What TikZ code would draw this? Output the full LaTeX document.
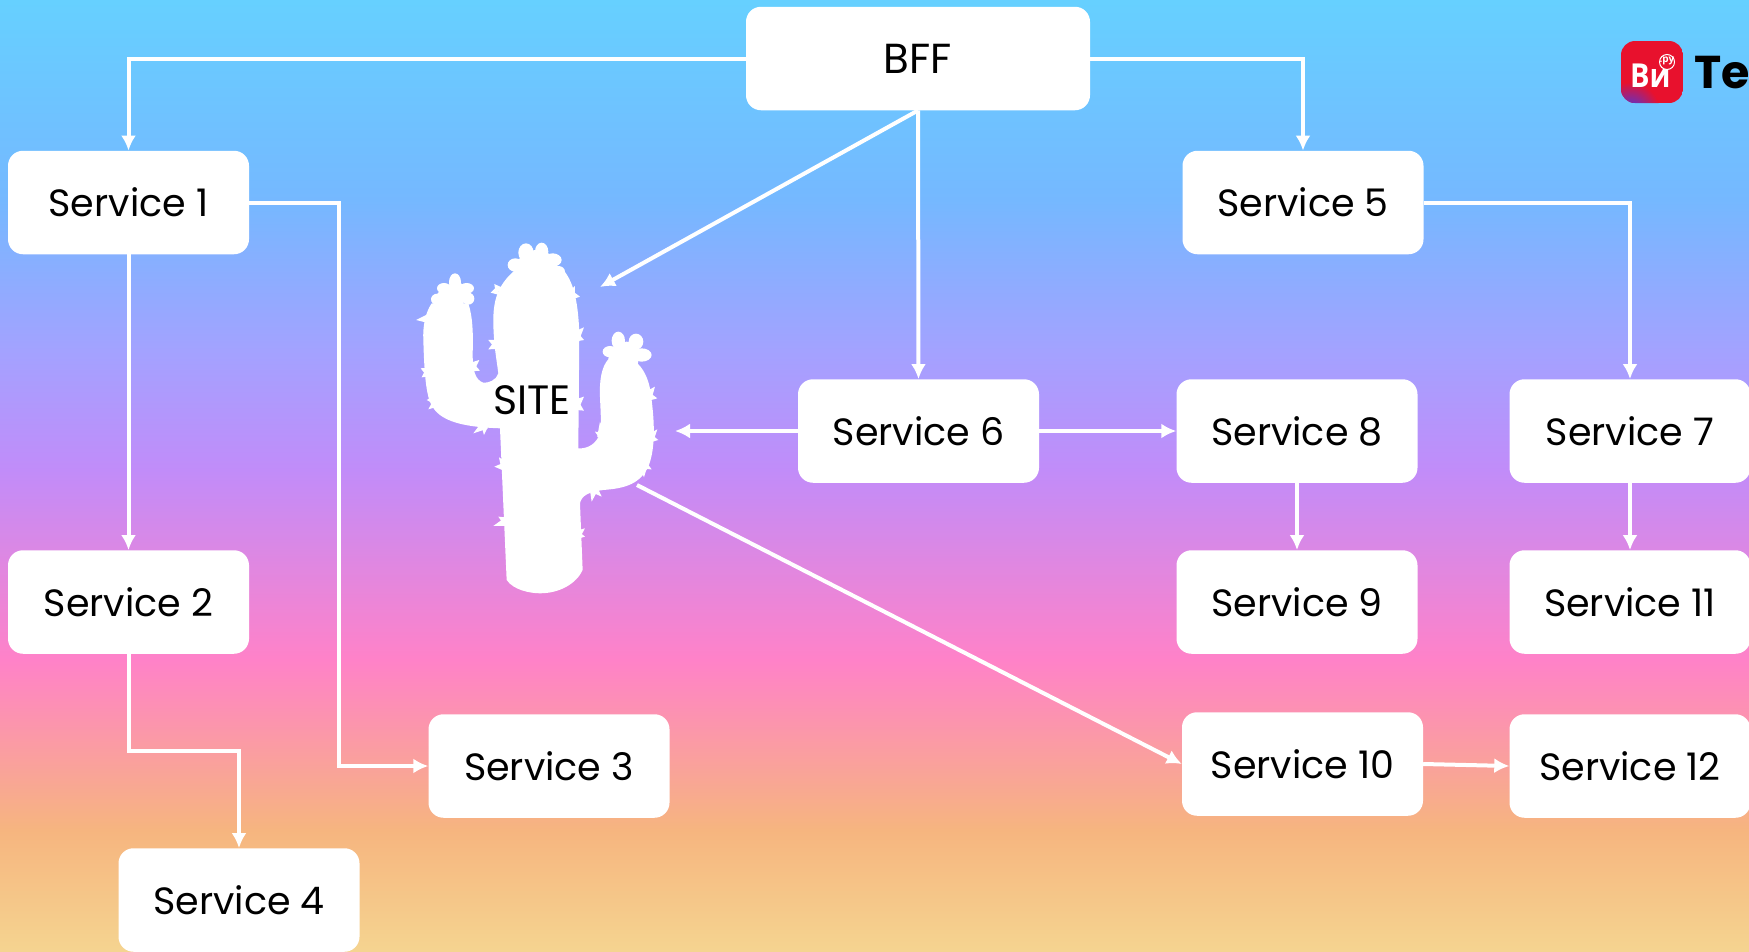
\documentclass[tikz,border=0pt]{standalone}
\usepackage{fontspec}
\setmainfont{Poppins}
\newfontfamily\logofont{Open Sans}
\usetikzlibrary{arrows.meta,calc}
\definecolor{g0}{HTML}{66D0FF}
\definecolor{g1}{HTML}{75B8FF}
\definecolor{g2}{HTML}{A3A2FF}
\definecolor{g3}{HTML}{C18CF9}
\definecolor{g4}{HTML}{FF82C8}
\definecolor{g5}{HTML}{F6B57F}
\definecolor{g6}{HTML}{F5D490}
\definecolor{logored}{HTML}{E8112D}
\definecolor{logoblue}{HTML}{3A3CF0}
\tikzset{
  svc/.style={fill=white,rounded corners=15pt,minimum width=241pt,minimum height=103.5pt,inner sep=0pt,font=\fontsize{38}{46}\selectfont,text=black},
  link/.style={draw=white,line width=4pt,-{Latex[length=15pt,width=15pt]}},
}
\newcommand{\spikeat}[4]{\fill[white] (#1,#2) -- ($(#3,#4)!4.5pt!90:(#1,#2)$) -- ($(#3,#4)!4.5pt!-90:(#1,#2)$) -- cycle;}
\begin{document}
\begin{tikzpicture}[x=1pt,y=-1pt]
\useasboundingbox (0,0) rectangle (1749,951);
% background
\fill[top color=g0,bottom color=g1] (0,0) rectangle (1749,200.5);
\fill[top color=g1,bottom color=g2] (0,200) rectangle (1749,350.5);
\fill[top color=g2,bottom color=g3] (0,350) rectangle (1749,470.5);
\fill[top color=g3,bottom color=g4] (0,470) rectangle (1749,660.5);
\fill[top color=g4,bottom color=g5] (0,660) rectangle (1749,830.5);
\fill[top color=g5,bottom color=g6] (0,830) rectangle (1749,951);
% cactus
\begin{scope}[shift={(400,220)},x=0.3333pt,y=-0.3333pt]
\fill[white] (95,250) .. controls (75,280) and (68,320) .. (70,360)
  .. controls (72,430) and (75,490) .. (85,530)
  .. controls (100,590) and (150,620) .. (300,625)
  -- (320,1080) .. controls (340,1110) and (390,1120) .. (420,1120)
  .. controls (480,1120) and (530,1090) .. (548,1050)
  -- (540,850) .. controls (545,825) and (570,815) .. (610,810)
  .. controls (680,805) and (720,790) .. (745,740)
  .. controls (765,690) and (765,620) .. (755,540)
  .. controls (750,480) and (730,440) .. (700,420)
  -- (625,418) .. controls (605,440) and (598,480) .. (600,530)
  .. controls (602,580) and (605,620) .. (600,640)
  .. controls (590,670) and (565,687) .. (535,685)
  -- (538,340) .. controls (535,260) and (525,190) .. (490,150)
  -- (345,150) .. controls (300,190) and (280,230) .. (280,300)
  .. controls (280,370) and (290,420) .. (295,460)
  .. controls (290,480) and (265,490) .. (250,488)
  .. controls (225,480) and (218,450) .. (218,400)
  .. controls (220,340) and (218,290) .. (205,250) -- cycle;
% flowers
\fill[white] (165,187) circle[x radius=18,y radius=27];
\fill[white] (132,205) circle[x radius=21,y radius=16];
\fill[white] (200,205) circle[x radius=22,y radius=16];
\fill[white] (112,238) circle[x radius=19,y radius=17];
\fill[white] (205,236) circle[x radius=18,y radius=18];
\fill[white] (150,240) circle[radius=42];
\fill[white] (168,218) circle[radius=32];
\fill[white] (378,98) circle[x radius=23,y radius=28];
\fill[white] (425,95) circle[x radius=20,y radius=27];
\fill[white] (458,120) circle[x radius=27,y radius=20];
\fill[white] (346,135) circle[x radius=23,y radius=20];
\fill[white] (475,155) circle[x radius=20,y radius=17];
\fill[white] (410,155) circle[radius=65];
\fill[white] (655,362) circle[x radius=20,y radius=27];
\fill[white] (708,365) circle[x radius=22,y radius=24];
\fill[white] (725,405) circle[x radius=30,y radius=20];
\fill[white] (630,395) circle[x radius=22,y radius=17];
\fill[white] (670,420) circle[radius=45];
\fill[white] (680,400) circle[radius=35];
% spikes
\spikeat{48}{300}{85}{296}
\spikeat{62}{445}{85}{455}
\spikeat{65}{472}{85}{458}
\spikeat{80}{540}{105}{540}
\spikeat{85}{568}{110}{548}
\spikeat{272}{218}{295}{212}
\spikeat{283}{192}{298}{212}
\spikeat{265}{360}{290}{372}
\spikeat{265}{388}{290}{375}
\spikeat{540}{230}{515}{226}
\spikeat{525}{198}{512}{226}
\spikeat{552}{322}{530}{345}
\spikeat{552}{360}{530}{352}
\spikeat{238}{420}{215}{440}
\spikeat{240}{452}{215}{442}
\spikeat{552}{530}{530}{550}
\spikeat{552}{572}{530}{558}
\spikeat{765}{500}{745}{525}
\spikeat{772}{535}{745}{530}
\spikeat{600}{605}{605}{650}
\spikeat{585}{635}{610}{650}
\spikeat{775}{660}{750}{655}
\spikeat{772}{628}{750}{655}
\spikeat{755}{748}{730}{735}
\spikeat{732}{772}{730}{735}
\spikeat{605}{830}{580}{805}
\spikeat{575}{845}{582}{805}
\spikeat{220}{640}{255}{615}
\spikeat{252}{645}{255}{610}
\spikeat{283}{740}{315}{740}
\spikeat{297}{712}{315}{738}
\spikeat{280}{918}{320}{905}
\spikeat{295}{890}{320}{905}
\spikeat{555}{950}{530}{945}
\spikeat{555}{925}{530}{945}
\end{scope}
\node[inner sep=0pt,font=\fontsize{41}{48}\selectfont] (site) at (532,400) {SITE};
% free connector ends
\coordinate (cacTop) at (600,287);
\coordinate (cacRight) at (675,431);
\coordinate (cacLow) at (637,485);
% boxes
\node[svc,minimum width=344pt,font=\fontsize{42}{50}\selectfont] (bff) at (918,58.5) {BFF};
\node[svc] (s1) at (128.5,202.5) {Service 1};
\node[svc] (s2) at (128.5,602) {Service 2};
\node[svc] (s3) at (549,766) {Service 3};
\node[svc] (s4) at (239,900) {Service 4};
\node[svc] (s5) at (1303,202.5) {Service 5};
\node[svc] (s6) at (918.5,431) {Service 6};
\node[svc] (s7) at (1630,431) {Service 7};
\node[svc] (s8) at (1297,431) {Service 8};
\node[svc] (s9) at (1297,602) {Service 9};
\node[svc] (s10) at (1302.5,764) {Service 10};
\node[svc] (s11) at (1630,602) {Service 11};
\node[svc] (s12) at (1630,766) {Service 12};
% connectors
\draw[link] (bff.west) -| (s1.north);
\draw[link] (bff.east) -| (s5.north);
\draw[link] (bff.south) -- (cacTop);
\draw[link] (bff.south) -- (s6.north);
\draw[link] (s1.south) -- (s2.north);
\draw[link] (s1.east) -- ++(90,0) |- (s3.west);
\draw[link] (s2.south) -- ++(0,97) -| (s4.north);
\draw[link] (s5.east) -| (s7.north);
\draw[link] (s6.west) -- (cacRight);
\draw[link] (s6.east) -- (s8.west);
\draw[link] (s8.south) -- (s9.north);
\draw[link] (s7.south) -- (s11.north);
\draw[link] (cacLow) -- (s10.west);
\draw[link] (s10.east) -- (s12.west);
% logo
\begin{scope}
\clip[rounded corners=14pt] (1621,41) rectangle (1683,103);
\fill[logored] (1621,41) rectangle (1683,103);
\shade[inner color=logoblue,outer color=logored] (1630,112) circle[radius=30];
\end{scope}
\node[inner sep=0pt,anchor=base west,text=white,xscale=0.88,font=\logofont\bfseries\fontsize{33}{34}\selectfont] (vi) at (1630,87.5) {Ви};
\draw[white,line width=1pt,fill=logored] (1667,62) circle[radius=7.5];
\node[inner sep=0pt,text=white,font=\logofont\bfseries\fontsize{10}{11}\selectfont] (ru) at (1667,61) {.ру};
\node[inner sep=0pt,anchor=base west,text=black,font=\bfseries\fontsize{46}{48}\selectfont] (te) at (1694,88) {Te};
\end{tikzpicture}
\end{document}
